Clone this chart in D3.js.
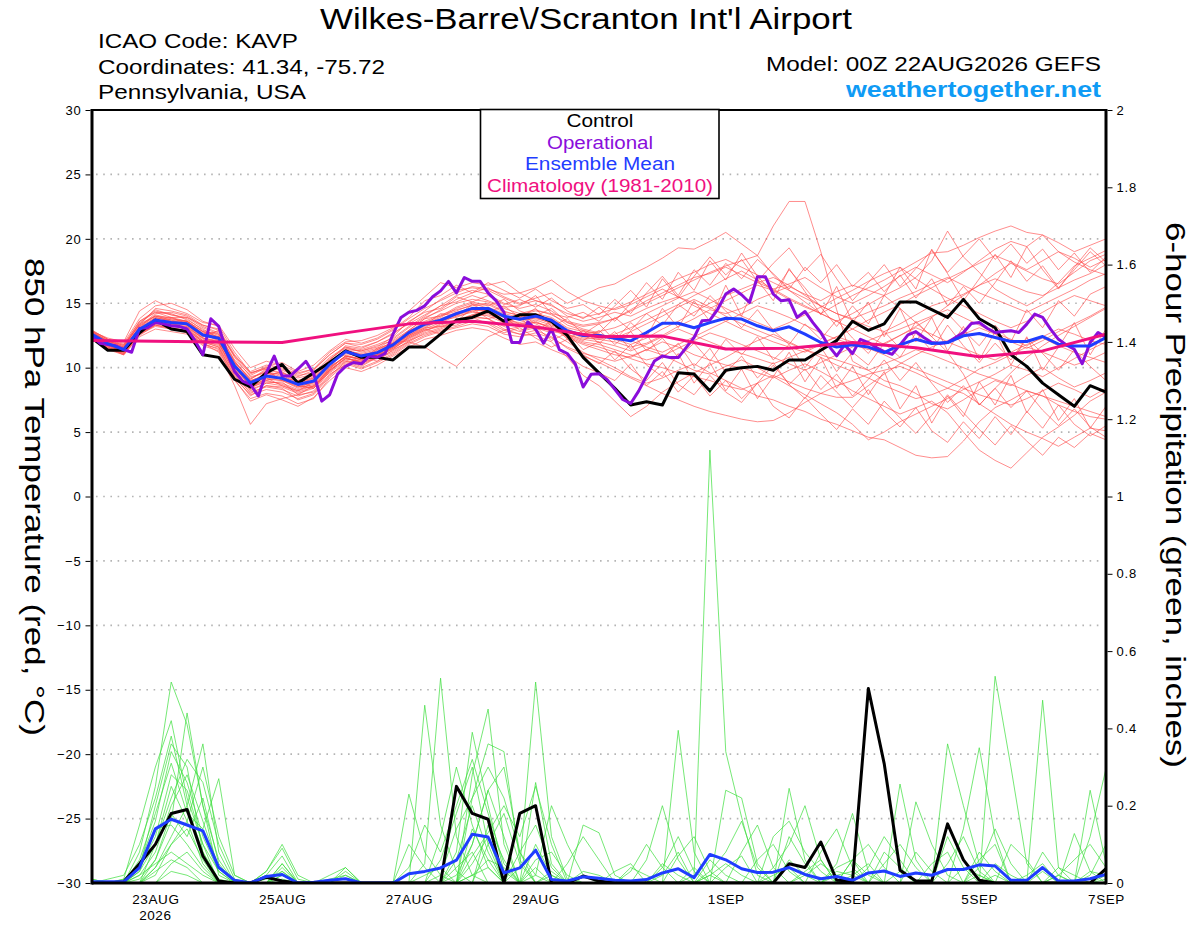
<!DOCTYPE html>
<html><head><meta charset="utf-8">
<script src="https://cdn.jsdelivr.net/npm/d3@7"></script>
<style>
body{margin:0;background:#fff}
svg{display:block}
text{font-family:"Liberation Sans",Arial,Helvetica,sans-serif}
</style>
</head><body>
<svg id="chart" width="1200" height="927"></svg>
<script>
// ---------------- DATA ----------------
const runStartUTC = Date.UTC(2026, 7, 22, 0);
const tempTicks = [30,25,20,15,10,5,0,-5,-10,-15,-20,-25,-30];
const precipTicks = [0,0.2,0.4,0.6,0.8,1,1.2,1.4,1.6,1.8,2];
const precipTickLabels = ["0","0.2","0.4","0.6","0.8","1","1.2","1.4","1.6","1.8","2"];
const dateTicks = ["2026-08-23","2026-08-25","2026-08-27","2026-08-29","2026-09-01","2026-09-03","2026-09-05","2026-09-07"];
const dateTickLabels = ["23AUG","25AUG","27AUG","29AUG","1SEP","3SEP","5SEP","7SEP"];
const yearLabel = "2026";
const legendLabels = ["Control","Operational","Ensemble Mean","Climatology (1981-2010)"];

// 6-hourly control temperature (°C)
const controlTemp = [12.3,11.35,11.35,12.7,13.7,13.0,12.8,11.0,10.8,
 9.1,8.5,9.6,10.25,8.8,9.6,10.4,11.3,
 10.8,10.8,10.6,11.6,11.6,12.6,13.7,13.9,
 14.4,13.6,14.1,14.1,13.6,12.5,10.8,9.6,
 8.4,7.1,7.35,7.1,9.6,9.5,8.2,9.8,
 10.0,10.1,9.8,10.6,10.6,11.35,12.1,13.6,
 12.9,13.4,15.1,15.1,14.5,13.9,15.3,13.8,
 13.1,11.0,10.1,8.8,7.9,7.0,8.6,8.1];

// 3-hourly operational temperature (°C)
const operationalTemp = [12.46,11.9,11.8,11.7,11.4,11.2,13.05,13.1,13.5,13.4,
 13.25,13.2,13.0,12.1,11.0,13.8,13.2,11.2,9.7,8.96,
 8.7,7.8,9.6,10.9,9.35,9.35,9.9,10.5,9.5,7.4,
 7.9,9.5,10.1,10.4,10.3,10.9,10.8,11.1,12.6,13.9,
 14.3,14.45,14.8,15.5,15.96,16.7,15.8,17.0,16.7,16.7,
 15.8,15.2,14.3,11.95,11.95,13.55,13.0,11.9,13.0,11.4,
 11.1,10.3,8.5,9.48,9.53,9.09,8.31,7.53,7.22,8.18,
 9.35,10.52,10.91,10.78,10.78,11.56,12.34,13.64,13.69,14.55,
 15.71,16.1,15.66,15.06,17.06,17.06,15.71,15.19,15.27,13.9,
 14.36,13.5,12.73,11.69,10.91,11.77,11.09,12.2,11.95,11.56,
 11.25,11.04,11.77,12.55,12.8,12.34,11.95,11.87,11.95,12.34,
 12.73,13.43,13.5,13.06,12.73,12.8,12.86,12.73,13.38,14.16,
 13.9,12.99,12.2,11.77,11.43,10.31,11.95,12.73,12.34];

// 6-hourly ensemble mean temperature (°C)
const meanTemp = [12.6,11.87,11.4,12.98,13.7,13.5,13.4,12.54,12.28,
 10.13,8.83,9.35,9.17,8.7,8.96,10.26,11.25,
 10.9,11.17,11.77,12.72,13.37,13.68,14.2,14.6,
 14.6,14.0,13.76,14.0,13.68,12.85,12.5,12.5,
 12.29,12.08,12.73,13.45,13.45,13.1,13.5,13.84,
 13.77,13.25,12.86,13.17,12.6,11.95,11.6,11.77,
 11.6,11.17,11.77,12.2,11.87,11.95,12.47,12.65,
 12.34,12.03,12.03,12.42,11.82,11.69,11.69,12.34];

// daily climatology (°C)
const climTemp = [12.1,12.05,12.0,11.95,12.7,13.4,13.6,13.15,12.4,12.45,11.45,11.5,11.95,11.55,10.85,11.3,12.6];

// ensemble members, 6-hourly temperature (°C)
const memberTemp = [
 [12.8,12.1,11.6,13.4,14.5,14.1,13.9,13.1,12.6, 10.5,9.1,9.9,9.6,9.0,9.4,10.6,11.6, 11.2,11.5,12.2,13.1,13.9,14.4,15.0,15.3, 15.1,14.6,14.2,14.5,14.1,13.5,13.2,13.4, 13.8,14.4,15.0,15.6,16.2,16.8,17.4,17.9, 18.3,18.7,21.0,22.9,22.9,19.0,14.5,10.5, 9.8,9.0,8.6,8.0,7.2,6.8,7.5,8.3, 9.0,8.6,9.4,10.0,9.2,8.5,9.0,9.6],
 [12.4,11.7,11.2,12.8,13.6,13.8,13.6,12.8,12.2, 9.8,8.4,9.0,8.7,8.2,8.6,9.9,10.9, 10.6,11.0,11.7,12.9,13.8,14.5,15.3,15.8, 16.2,15.5,15.0,15.4,15.8,15.0,15.6,16.2, 16.5,17.2,17.8,18.5,19.3,19.2,19.8,20.5, 19.6,18.7,17.2,16.0,15.1,14.2,13.6,13.0, 12.4,11.8,12.5,13.2,13.9,14.8,15.6,16.4, 17.3,18.1,17.5,16.9,16.5,17.4,18.3,18.8],
 [12.2,11.5,11.0,12.5,13.3,13.1,12.9,12.0,11.6, 9.4,8.1,8.5,8.3,7.8,8.2,9.7,10.6, 10.2,10.8,11.3,12.1,12.6,13.0,13.5,13.9, 13.8,13.2,12.8,13.1,12.7,12.0,11.2,10.6, 10.0,9.3,8.8,9.2,9.8,10.3,9.6,9.0, 8.4,7.8,7.5,7.0,6.6,6.0,5.6,5.1, 4.6,4.4,3.8,3.2,3.0,3.1,4.3,5.8, 6.9,7.5,8.2,7.8,7.1,6.6,6.2,6.0],
 [12.6,12.0,11.8,13.3,14.0,13.7,13.3,12.4,12.9, 10.8,9.3,9.6,9.1,8.6,8.4,9.8,10.7, 10.5,11.1,11.6,12.4,13.1,13.2,13.6,14.0, 14.1,13.7,13.5,13.9,13.4,12.8,12.4,12.2, 12.0,11.6,11.9,12.5,13.2,13.8,14.5,14.2, 14.6,15.3,15.8,16.3,15.7,15.2,15.9,16.4, 16.0,15.6,16.2,17.0,18.3,20.6,18.6,17.4, 16.1,15.4,14.8,15.5,16.6,17.9,18.5,19.1],
 [12.9,12.2,11.9,13.8,14.8,15.0,14.5,13.6,13.2, 11.2,9.6,10.0,9.8,9.3,9.8,11.0,11.9, 11.6,12.0,12.6,13.5,14.4,15.3,16.0,16.2, 16.0,15.4,14.9,15.2,14.9,14.0,13.6,13.9, 14.3,14.0,14.6,15.1,15.5,15.0,14.6,15.2, 15.8,16.4,16.0,15.3,14.7,14.2,14.9,15.6, 16.2,16.8,17.5,18.2,18.9,19.0,19.5,20.1, 20.6,21.0,20.5,20.3,19.0,18.2,17.6,17.2],
 [12.3,11.6,11.1,12.7,13.4,13.2,13.2,12.2,11.9, 9.5,8.0,8.6,8.5,8.0,8.4,9.7,10.8, 10.4,10.7,11.2,12.0,12.7,13.1,13.6,14.1, 14.3,13.6,13.4,13.5,13.1,12.3,11.8,11.4, 11.0,10.8,11.4,12.0,11.6,11.0,10.6,10.2, 10.0,9.6,9.2,9.8,10.3,9.7,9.0,8.2, 7.6,7.0,6.4,6.9,7.4,6.5,5.0,3.6, 2.8,2.2,3.4,4.6,5.4,6.3,7.4,8.1],
 [12.5,11.8,11.3,13.1,13.9,13.6,13.5,12.7,12.4, 10.2,8.9,9.5,9.6,9.2,9.5,10.5,11.3, 11.1,11.4,12.0,12.8,13.6,14.1,14.5,14.8, 14.9,14.3,14.1,14.4,14.2,13.3,12.9,12.6, 12.2,11.8,12.3,13.0,13.6,14.3,15.0,15.6, 16.1,16.6,17.0,16.4,15.6,14.8,14.2,13.7, 13.2,12.8,13.4,14.1,14.8,15.2,15.7,16.4, 16.9,16.4,15.9,15.6,16.2,16.8,17.3,18.0],
 [12.4,11.6,11.0,12.6,13.2,13.0,12.8,11.8,11.5, 9.2,7.9,8.3,8.1,7.6,8.0,9.4,10.4, 10.0,10.5,11.1,11.9,12.5,12.9,13.2,13.6, 13.5,12.9,12.6,12.9,12.4,11.5,10.9,10.4, 9.8,9.2,8.6,8.0,7.5,7.0,6.6,6.3, 6.0,5.8,5.9,6.5,7.3,8.0,8.6,9.0, 9.5,9.8,10.1,9.6,9.0,8.4,9.1,9.9, 10.4,11.0,11.6,11.2,10.7,10.2,10.6,11.2],
 [12.7,11.9,11.4,12.9,13.5,13.3,13.0,12.1,11.7, 9.6,8.3,8.8,8.6,8.1,8.5,9.9,10.9, 10.6,11.0,11.5,12.3,12.9,13.3,13.7,14.0, 13.8,13.0,12.6,12.5,12.0,10.8,9.4,8.6, 7.4,6.2,7.0,8.1,8.9,9.6,10.2,10.8, 11.5,12.1,12.6,12.0,11.4,10.8,10.2,9.7, 9.2,8.6,8.1,7.6,7.9,8.4,8.0,7.2, 6.4,5.6,5.0,4.5,3.9,4.6,5.3,5.1],
 [12.6,11.9,11.5,13.2,14.2,14.3,14.0,13.2,12.7, 10.6,9.4,10.0,9.9,9.4,9.6,10.8,11.6, 11.4,11.8,12.3,13.2,14.0,14.8,15.6,16.0, 15.7,15.0,14.6,14.9,14.4,13.6,13.3,13.5, 13.8,14.5,15.2,15.8,16.4,17.0,17.3,17.8, 17.2,16.6,16.1,16.5,17.0,16.2,15.5,15.0, 15.6,16.3,17.1,17.8,17.2,16.6,17.4,18.3, 19.2,19.8,19.4,20.3,19.7,19.0,19.5,20.0],
 [12.2,11.4,11.0,12.4,13.0,12.8,12.6,11.9,11.4, 9.0,7.6,8.0,7.8,7.2,7.6,9.2,10.3, 9.9,10.4,11.0,11.8,12.4,12.8,13.1,13.4, 13.2,12.6,12.4,12.7,12.3,11.6,11.1,10.8, 10.5,10.9,11.4,11.0,10.4,9.8,9.5,10.1, 10.6,10.0,9.3,8.6,7.9,7.2,6.5,5.6, 4.4,5.0,5.8,6.4,7.0,7.6,8.3,8.9, 9.5,10.2,9.8,9.3,10.0,10.7,11.4,12.0],
 [12.5,11.7,11.3,12.9,13.8,13.9,13.9,13.3,13.0, 11.0,9.6,9.9,9.5,8.9,9.2,10.4,11.3, 11.0,11.2,11.9,12.6,13.4,13.9,14.6,15.0, 14.6,14.0,13.7,13.8,13.5,12.9,12.6,12.8, 13.1,13.6,14.2,14.8,15.4,15.9,15.3,14.6, 14.0,13.5,13.0,13.5,14.1,14.7,15.4,16.0, 16.7,17.3,17.8,16.9,16.1,15.4,14.8,14.2, 13.6,13.1,13.6,14.3,15.0,15.6,15.2,14.8],
 [12.9,12.2,11.8,13.6,14.4,14.1,13.8,12.9,12.5, 10.3,9.0,9.4,9.1,8.5,8.8,10.0,10.9, 10.7,11.0,11.4,12.0,11.6,10.8,10.1,11.3, 12.4,12.9,13.2,13.6,13.0,12.5,12.0,11.8, 11.4,11.0,10.6,10.9,11.5,12.1,12.7,12.3, 11.8,11.3,10.8,10.3,9.8,10.4,11.0,11.6, 12.1,12.6,13.0,13.5,14.0,14.5,13.9,13.3, 12.7,12.2,11.7,12.4,13.0,12.6,12.1,11.8],
 [12.8,12.3,12.0,14.4,15.2,14.6,14.2,13.5,13.3, 11.5,10.0,10.5,10.2,9.6,9.9,11.0,11.9, 11.8,12.2,12.9,13.8,14.6,15.2,15.8,16.3, 16.1,15.7,15.8,16.2,16.8,15.9,15.2,14.8, 14.5,14.9,15.5,16.1,15.5,14.8,14.2,13.6, 13.0,12.5,12.0,11.6,11.2,11.8,12.4,13.0, 13.7,14.3,14.9,15.6,16.2,16.9,17.5,18.1, 18.7,18.2,17.6,18.3,19.0,18.5,17.8,18.4],
 [12.3,11.5,11.1,12.6,13.3,13.0,12.8,11.9,11.2, 8.6,5.6,7.2,7.6,7.9,8.6,9.6,10.5, 10.3,10.9,11.6,12.5,13.3,13.6,14.1,14.5, 14.4,13.9,13.4,13.7,13.3,12.6,12.2,12.0, 11.7,11.3,11.8,12.4,13.0,12.5,12.0,11.5, 11.1,10.7,10.3,10.8,11.3,11.9,12.4,12.0, 11.5,11.0,10.4,9.9,9.4,8.9,8.4,7.9, 7.5,7.1,7.6,8.2,8.8,8.3,7.7,8.4],
 [12.6,11.8,11.4,13.0,13.7,13.4,13.2,12.3,12.0, 9.9,8.6,9.1,9.0,8.5,8.9,10.2,11.1, 10.8,11.2,11.8,12.6,13.4,13.8,14.3,14.6, 14.7,14.2,13.9,14.1,13.8,13.0,12.5,12.3, 12.6,13.1,13.7,14.3,14.9,15.6,16.2,16.9, 17.5,16.8,16.1,15.4,14.8,14.2,13.6,14.2, 14.9,15.6,14.6,13.5,12.4,11.2,9.5,7.1, 8.4,9.6,10.8,11.7,12.5,13.2,13.9,14.6],
 [12.4,11.7,11.2,12.8,13.5,13.3,13.1,12.3,12.1, 10.0,8.7,9.2,9.0,8.4,8.7,10.0,10.9, 10.7,11.1,11.7,12.5,13.2,13.6,14.1,14.4, 14.5,13.9,13.7,13.9,13.6,12.8,12.3,12.2, 12.5,12.1,11.6,11.2,11.8,12.4,13.0,13.6, 14.2,14.8,14.4,13.9,13.3,12.7,12.2,11.8, 11.4,11.9,12.5,13.1,12.6,12.0,11.5,11.0, 10.6,11.2,11.8,12.3,11.7,11.2,10.8,10.4],
 [12.7,12.1,11.7,13.6,14.3,13.9,13.6,12.6,12.8, 10.9,9.7,10.2,10.0,9.5,9.9,11.2,12.0, 12.1,12.5,13.1,14.4,15.5,16.6,16.2,16.6, 16.4,16.7,15.8,15.2,14.8,14.2,13.9,14.2, 14.6,15.1,15.7,16.3,16.9,17.4,18.0,18.4, 17.8,17.2,16.6,16.0,15.4,14.8,14.2,13.8, 14.3,14.8,15.4,15.9,16.5,17.0,16.4,15.8, 15.3,14.8,14.3,14.9,15.5,16.1,16.8,17.3],
 [12.5,11.8,11.3,12.9,13.6,13.4,13.3,12.5,12.2, 10.1,8.5,8.9,8.8,8.3,8.6,9.8,10.7, 10.5,10.9,11.6,12.3,13.0,13.5,14.0,14.3, 14.2,13.6,13.3,13.5,13.2,12.4,11.9,11.6, 11.2,10.7,10.3,10.0,9.6,9.3,9.0,8.6, 8.3,8.8,9.4,8.9,8.4,8.0,7.7,7.7, 8.6,9.5,10.3,11.0,11.6,12.1,12.6,13.1, 12.6,12.0,11.5,12.1,12.8,13.4,14.0,14.7],
 [12.8,12.0,11.5,13.2,14.0,13.7,13.6,12.8,12.4, 10.4,9.2,9.7,9.4,8.8,9.1,10.4,11.4, 11.0,11.3,11.9,12.7,13.5,14.0,14.4,14.9, 15.0,14.4,14.0,14.2,13.9,13.1,12.8,12.6, 12.3,12.8,13.4,14.0,14.7,15.3,14.7,14.0, 13.4,12.9,12.4,11.9,11.4,11.0,10.6,10.2, 9.8,10.3,10.8,11.4,11.0,10.5,10.0,9.5, 9.1,8.7,8.2,7.8,7.4,7.0,6.6,6.2],
 [12.6,11.9,11.5,13.1,14.1,13.8,13.6,12.6,12.1, 10.0,8.9,9.6,9.3,8.7,9.2,10.5,11.0, 10.6,11.5,11.9,12.9,13.3,14.2,14.0,14.9, 14.3,14.8,13.9,14.6,13.2,13.8,12.6,13.4, 12.1,13.5,12.4,14.6,13.1,15.2,13.6,16.4, 14.0,16.8,15.2,17.7,15.9,14.1,16.3,13.5, 15.1,12.4,14.6,12.0,13.9,11.3,13.2,10.6, 12.8,10.2,12.4,9.8,11.6,13.5,11.0,13.0],
 [12.3,11.6,11.2,12.6,13.4,13.5,13.0,12.0,11.8, 9.9,8.2,8.8,8.9,7.9,8.1,9.5,10.2, 10.9,10.5,11.4,12.4,13.0,12.6,13.6,14.6, 13.8,14.1,12.9,13.2,12.1,12.7,11.4,12.0, 10.6,11.8,10.2,9.3,11.1,8.8,10.4,8.2, 9.9,7.6,9.3,11.2,8.9,10.8,8.4,10.1, 7.9,9.7,6.8,8.6,5.7,7.8,6.2,8.9, 7.1,9.4,6.5,8.3,5.9,7.6,5.3,7.0],
 [12.7,12.0,11.6,13.5,14.3,14.2,13.7,13.0,12.3, 10.3,8.7,9.3,9.7,8.9,8.5,10.0,11.4, 11.3,11.6,12.4,13.6,14.3,14.6,15.5,15.1, 15.6,14.9,15.3,14.7,15.4,14.4,13.8,14.7, 13.6,15.0,16.6,15.3,17.4,16.0,18.3,16.8, 18.9,17.1,15.8,17.6,16.2,14.7,13.2,14.8, 13.4,15.6,17.8,16.1,19.2,17.3,15.2,16.9, 18.8,17.0,19.4,17.6,16.1,17.8,19.3,18.2],
 [12.5,11.8,11.4,12.8,13.6,13.2,13.1,12.1,11.9, 9.7,8.4,9.2,8.6,8.2,8.9,10.1,10.8, 10.3,11.4,11.9,12.1,12.8,13.4,13.7,14.1, 14.5,13.4,13.9,12.8,13.6,12.2,12.9,11.9, 12.8,11.4,12.6,10.7,11.9,10.1,11.5,9.6, 10.9,9.2,10.4,8.7,7.6,9.4,8.1,6.9, 8.3,6.6,5.4,6.9,5.1,4.2,5.8,4.5, 6.2,4.8,6.6,5.3,7.1,5.6,4.7,5.5],
 [12.8,12.2,11.7,13.3,14.6,14.4,14.1,13.3,12.9, 10.9,9.5,10.1,10.4,9.7,10.2,11.3,12.2, 11.9,12.3,13.0,13.9,15.2,15.6,16.4,15.8, 16.6,16.0,15.4,16.1,15.2,14.6,14.9,14.1, 15.3,14.2,15.8,17.1,15.6,17.6,16.4,18.1, 16.9,18.4,17.3,16.1,17.8,16.6,18.0,16.3, 17.4,15.9,17.2,15.4,16.9,14.8,16.3,15.0, 16.6,18.3,16.7,17.9,16.2,17.6,19.0,17.9],
 [12.2,11.5,11.1,12.7,13.5,13.4,12.9,12.0,11.6, 9.3,7.8,8.6,8.4,7.5,7.9,9.3,10.5, 10.1,10.8,11.5,12.2,12.9,13.2,13.3,13.9, 13.4,12.7,13.1,12.3,11.6,12.2,11.0,10.3, 11.3,9.9,9.0,10.4,8.7,7.9,9.4,8.1, 7.3,8.8,7.0,6.1,7.7,6.4,5.2,6.8, 5.6,7.4,6.1,4.9,6.3,7.9,6.5,5.2, 4.0,5.5,4.3,3.2,4.6,3.8,4.9,4.4],
 [12.6,11.9,11.4,13.0,13.9,13.6,13.6,12.8,12.6, 10.5,9.0,9.4,9.2,9.0,9.4,10.7,11.5, 11.3,11.7,12.1,12.9,13.8,14.0,14.7,15.1, 14.8,15.3,14.4,14.0,14.6,13.5,13.0,12.7, 13.9,12.9,14.2,13.3,14.9,14.0,15.6,14.4, 13.1,14.5,12.9,11.8,13.4,12.2,13.7,12.3, 11.1,12.8,11.5,13.6,12.4,14.2,12.9,11.7, 13.3,12.0,14.5,13.1,15.2,14.0,15.7,16.3],
 [12.4,11.7,11.3,12.9,13.6,13.6,13.3,12.3,12.0, 10.0,8.6,9.0,9.3,8.6,8.4,9.8,10.7, 10.4,11.0,11.8,12.5,13.1,13.7,13.9,14.4, 14.0,13.5,14.2,13.4,12.8,12.6,12.1,12.9, 11.8,12.8,11.3,12.3,10.8,11.9,10.5,12.2, 11.0,12.4,10.6,11.8,10.0,11.6,9.7,11.2, 10.2,11.9,10.8,12.7,11.3,13.3,11.7,10.4, 11.9,10.6,12.3,11.1,9.8,11.4,10.1,9.0],
 [12.7,12.1,11.6,13.4,14.0,13.9,13.4,12.5,12.4, 10.4,9.1,9.8,9.0,8.8,9.3,10.6,11.7, 11.5,12.0,12.7,13.4,14.1,14.8,15.1,15.6, 15.2,14.7,14.8,15.6,14.2,13.9,14.3,13.6, 14.8,16.0,14.7,16.9,15.4,17.1,18.6,17.2, 18.4,16.7,18.1,19.3,17.5,18.8,16.9,15.2, 16.6,18.0,16.3,17.7,19.1,17.4,18.7,20.0, 18.4,19.6,18.1,19.2,17.6,18.9,17.4,18.6],
 [12.5,11.8,11.2,12.7,13.3,13.1,12.7,11.7,11.3, 9.1,7.4,7.9,7.5,7.0,7.7,9.0,10.0, 9.7,10.2,10.9,11.6,12.2,12.5,12.9,13.1, 12.9,12.3,11.8,12.0,11.4,10.9,10.1,9.6, 9.0,10.3,8.6,9.7,8.1,9.4,7.8,9.0, 7.6,8.8,10.2,8.7,9.9,8.3,9.5,7.8, 9.1,10.6,9.0,10.4,8.8,7.3,8.6,7.1, 8.4,6.9,8.2,6.7,5.5,6.8,5.4,4.6]
];

// 6-hourly precipitation (inches)
const controlPrecip = [0,0,0.003,0.05,0.10,0.18,0.19,0.07,0.005,
 0,0,0.015,0.005,0,0,0,0,
 0,0,0,0,0,0,0.25,0.18,
 0.165,0,0.18,0.2,0,0,0.018,0.005,
 0,0,0,0,0,0,0,0,
 0,0,0,0.05,0.04,0.106,0.007,0.005,
 0.503,0.309,0.033,0.005,0.005,0.153,0.06,0.007,
 0,0,0,0,0,0,0,0.037];

const meanPrecip = [0.003,0.003,0.003,0.04,0.14,0.165,0.15,0.135,0.04,
 0.007,0,0.017,0.022,0,0.002,0.007,0.011,
 0,0,0,0.024,0.03,0.039,0.059,0.126,
 0.119,0.026,0.039,0.085,0.009,0.005,0.016,0.012,
 0.007,0.005,0.009,0.026,0.037,0.014,0.074,0.06,
 0.037,0.027,0.028,0.04,0.022,0.011,0.017,0.007,
 0.026,0.031,0.017,0.026,0.02,0.035,0.035,0.047,
 0.044,0.007,0.007,0.04,0.005,0.005,0.011,0.022];

const memberPrecip = [
 [0.01,0,0,0.08,0.25,0.52,0.41,0.2,0.02, 0,0,0.03,0.09,0.01,0,0,0, 0,0,0,0,0.05,0.53,0.12,0.02, 0,0,0,0.1,0.02,0,0,0, 0,0,0,0.04,0.12,0.03,0,0, 0,0,0,0.06,0.02,0,0,0, 0,0,0,0,0,0.36,0.2,0.05, 0,0,0,0,0,0,0.02,0.1],
 [0,0,0.01,0.15,0.3,0.42,0.22,0.1,0.03, 0,0,0,0.05,0,0,0,0.04, 0,0,0,0.23,0.08,0.02,0,0.28, 0.45,0.1,0,0,0,0,0,0, 0,0,0,0,0,0.02,1.12,0.34, 0.17,0.02,0,0,0,0,0,0, 0.04,0.12,0.06,0,0,0,0,0, 0.535,0.3,0.05,0,0,0,0,0],
 [0,0.01,0.02,0.1,0.22,0.38,0.2,0.36,0.08, 0,0,0.02,0.07,0,0,0,0, 0,0,0,0,0.46,0.15,0.03,0, 0,0,0.04,0.52,0.12,0.01,0,0, 0,0,0.06,0.2,0.06,0,0,0, 0,0,0,0,0,0,0.05,0.18, 0.03,0,0,0,0,0,0,0, 0,0,0,0.473,0.04,0,0,0],
 [0,0,0,0.06,0.18,0.31,0.18,0.14,0.27, 0.02,0,0,0.03,0,0,0,0, 0,0,0,0,0,0,0.08,0.39, 0.2,0.03,0,0,0,0,0.15,0.13, 0.02,0,0,0,0.395,0.08,0,0, 0,0,0,0.245,0.06,0,0,0, 0,0,0.256,0.06,0,0,0,0, 0,0,0,0,0,0,0.12,0.296],
 [0,0,0,0.04,0.12,0.28,0.24,0.1,0, 0,0,0.02,0,0,0,0,0.03, 0,0,0,0,0,0,0,0.22, 0.36,0.34,0.06,0,0,0,0,0, 0,0,0,0,0,0,0,0.24, 0.22,0.05,0,0,0,0,0,0, 0,0,0,0.21,0.1,0.02,0,0, 0,0,0,0,0,0.128,0.03,0],
 [0,0,0,0,0.1,0.25,0.16,0.05,0, 0,0,0,0.04,0,0,0,0, 0,0,0,0,0,0.06,0.18,0.3, 0.1,0,0,0.26,0.05,0,0,0, 0,0.03,0.1,0.04,0,0,0,0, 0,0,0.12,0.16,0.08,0.03,0,0, 0,0,0,0,0,0,0.14,0.35, 0.12,0,0,0,0,0,0.24,0.05],
 [0,0,0,0.02,0.08,0.2,0.28,0.16,0.04, 0,0,0,0,0,0,0.02,0.04, 0,0,0,0,0,0,0,0.1, 0.24,0.12,0,0,0,0.05,0.12,0.06, 0,0,0,0,0,0,0,0, 0.08,0.15,0.04,0,0,0,0,0, 0,0.08,0.04,0,0,0,0,0, 0,0.1,0.06,0,0,0,0,0],
 [0.01,0,0,0,0.06,0.18,0.12,0.22,0.05, 0,0,0.03,0.1,0.02,0,0,0, 0,0,0,0.1,0.04,0,0,0, 0.15,0.06,0,0,0,0,0,0, 0,0,0,0,0.07,0.12,0.03,0, 0,0,0,0,0,0.08,0.14,0.04, 0,0,0,0,0,0.12,0.04,0, 0,0,0,0,0.04,0.02,0,0],
 [0,0,0,0.03,0.14,0.15,0.1,0.04,0, 0,0,0,0,0,0,0,0, 0,0,0,0,0,0.12,0.3,0.15, 0.04,0,0.08,0.15,0.04,0,0,0, 0,0,0,0,0,0,0.06,0.02, 0,0,0,0,0,0,0.04,0.06, 0,0,0,0.08,0.03,0,0,0.06, 0.1,0,0,0,0,0,0,0],
 [0,0,0,0,0.04,0.12,0.2,0.08,0, 0,0,0,0.02,0,0,0,0.02, 0,0,0,0,0,0,0.06,0.2, 0.08,0,0,0,0.03,0,0,0, 0,0,0,0.02,0.08,0,0,0, 0,0,0,0.12,0.05,0,0,0, 0,0.05,0.1,0.04,0,0,0,0, 0,0,0,0.08,0.02,0,0,0],
 [0,0,0,0,0.02,0.1,0.14,0.06,0, 0,0,0,0,0,0,0,0, 0,0,0,0,0,0,0,0.14, 0.06,0,0,0.06,0.08,0.02,0,0, 0.03,0.05,0,0,0,0,0,0, 0,0.06,0.1,0.03,0,0,0,0, 0,0,0,0,0.05,0.08,0,0, 0,0,0,0,0,0,0,0.04],
 [0,0,0,0.02,0.05,0.08,0.05,0.02,0, 0,0,0,0.05,0,0,0,0, 0,0,0,0,0.02,0.04,0,0, 0.1,0.18,0.05,0,0,0,0,0, 0,0,0,0.05,0.02,0,0,0.04, 0.07,0,0,0,0,0,0,0.06, 0.02,0,0,0,0,0,0,0, 0.05,0.02,0,0,0,0,0,0],
 [0,0,0,0,0,0.05,0.08,0.03,0, 0,0,0,0,0,0,0,0, 0,0,0,0,0,0,0,0.05, 0.12,0,0,0,0,0,0.03,0.02, 0,0,0,0,0,0.04,0,0, 0,0,0,0,0.03,0.06,0,0, 0,0,0,0,0,0,0.04,0.02, 0,0,0,0.03,0,0,0,0],
 [0,0,0,0,0.03,0.06,0.04,0,0, 0,0,0.01,0.03,0,0,0,0, 0,0,0,0,0,0,0.04,0.08, 0,0,0,0.04,0,0,0,0, 0,0,0,0,0,0,0,0, 0,0,0.02,0.04,0,0,0,0, 0,0,0.03,0,0,0,0,0, 0,0,0.02,0.05,0,0,0,0],
 [0,0,0,0,0,0.03,0.02,0,0, 0,0,0,0,0,0,0,0, 0,0,0,0,0,0,0,0.02, 0.04,0,0,0,0.02,0,0,0, 0,0,0,0,0,0,0.02,0, 0,0,0,0,0,0,0.02,0.03, 0,0,0,0,0,0,0,0.02, 0,0,0,0,0,0,0.03,0.02],
 [0,0,0.01,0.05,0.16,0.34,0.26,0.12,0.03, 0,0,0,0.02,0,0,0.01,0.02, 0,0,0,0.04,0.15,0.08,0.2,0.32, 0.18,0.05,0,0,0,0,0,0, 0,0,0,0,0,0,0.03,0.08, 0.16,0.04,0,0,0,0,0,0.02, 0.05,0,0,0,0,0,0,0, 0,0,0,0,0.02,0.06,0.1,0.04],
 [0,0,0,0.03,0.1,0.22,0.32,0.26,0.1, 0.01,0,0,0,0,0,0,0, 0,0,0,0,0,0.02,0.14,0.22, 0.3,0.22,0.08,0,0,0,0,0, 0,0.04,0.02,0,0,0,0,0, 0,0,0.04,0.1,0.2,0.06,0,0, 0,0,0,0,0,0.05,0.12,0.03, 0,0,0,0,0.02,0,0,0.01],
 [0,0,0,0.04,0.2,0.36,0.3,0.08,0.01, 0,0,0,0,0,0,0,0, 0,0,0,0,0,0,0,0.07, 0.13,0.2,0.12,0.25,0.1,0,0,0, 0,0,0,0,0,0,0.02,0.05, 0.02,0,0,0,0,0,0,0.06, 0.1,0.04,0,0,0,0,0,0.08, 0.03,0,0,0,0,0,0,0],
 [0,0,0,0.01,0.06,0.16,0.44,0.2,0.06, 0,0,0,0.01,0,0,0,0, 0,0,0,0,0,0,0.02,0.1, 0.24,0.3,0.08,0.02,0,0,0,0, 0,0,0,0,0,0,0,0, 0,0,0,0,0,0,0.03,0.02, 0,0,0,0,0,0,0,0.04, 0.14,0.05,0,0,0,0,0,0],
 [0,0,0,0,0.04,0.1,0.16,0.3,0.12, 0.02,0,0,0,0,0,0,0, 0,0,0,0,0,0,0,0.02, 0.06,0.04,0,0.02,0.2,0.1,0.02,0, 0,0,0,0,0,0,0,0, 0,0,0,0,0.02,0.05,0.02,0, 0,0,0,0,0,0,0,0, 0.02,0,0,0,0,0,0,0.02]
];

// ---------------- DRAW ----------------
const svg = d3.select("#chart");
const W = 1200, H = 927;
const plot = {left: 92, right: 1106, top: 110, bottom: 883};
const HOUR = 3600e3;

const x = d3.scaleUtc()
  .domain([new Date(runStartUTC), new Date(runStartUTC + 16*24*HOUR)])
  .range([plot.left, plot.right]);
const yT = d3.scaleLinear().domain([-30, 30]).range([plot.bottom, plot.top]);
const yP = d3.scaleLinear().domain([0, 2]).range([plot.bottom, plot.top]);

const tAt = (step, hours) => new Date(runStartUTC + step*hours*HOUR);

svg.append("rect").attr("width", W).attr("height", H).attr("fill", "#fff");

// grid lines (dotted)
svg.append("g").selectAll("line")
  .data(tempTicks.filter(t => t > -30 && t < 30))
  .join("line")
  .attr("x1", plot.left + 4).attr("x2", plot.right - 2)
  .attr("y1", d => yT(d)).attr("y2", d => yT(d))
  .attr("stroke", "#b4b4b4").attr("stroke-width", 1.6)
  .attr("stroke-dasharray", "1.6,5.6");

svg.append("clipPath").attr("id", "pclip").append("rect")
  .attr("x", plot.left).attr("y", plot.top).attr("width", plot.right - plot.left).attr("height", plot.bottom - plot.top);

const gData = svg.append("g").attr("clip-path", "url(#pclip)");

const line6T = d3.line().x((d, i) => x(tAt(i, 6))).y(d => yT(d));
const line3T = d3.line().x((d, i) => x(tAt(i, 3))).y(d => yT(d));
const line24T = d3.line().x((d, i) => x(tAt(i, 24))).y(d => yT(d));
const line6P = d3.line().x((d, i) => x(tAt(i, 6))).y(d => yP(d));

// members
gData.append("g").selectAll("path").data(memberTemp).join("path")
  .attr("d", line6T).attr("fill", "none")
  .attr("stroke", "#ff4a4a").attr("stroke-width", 0.7).attr("stroke-opacity", 0.9);
gData.append("g").selectAll("path").data(memberPrecip).join("path")
  .attr("d", line6P).attr("fill", "none")
  .attr("stroke", "#3ede3e").attr("stroke-width", 0.75).attr("stroke-opacity", 0.95);

// precip control and mean
gData.append("path").datum(controlPrecip).attr("d", line6P).attr("fill", "none")
  .attr("stroke", "#000").attr("stroke-width", 3).attr("stroke-linejoin", "round");
gData.append("path").datum(meanPrecip).attr("d", line6P).attr("fill", "none")
  .attr("stroke", "#1f3dff").attr("stroke-width", 3).attr("stroke-linejoin", "round");

// temperature lines
gData.append("path").datum(controlTemp).attr("d", line6T).attr("fill", "none")
  .attr("stroke", "#000").attr("stroke-width", 3).attr("stroke-linejoin", "round");
gData.append("path").datum(operationalTemp).attr("d", line3T).attr("fill", "none")
  .attr("stroke", "#8a0ddb").attr("stroke-width", 3).attr("stroke-linejoin", "round");
gData.append("path").datum(meanTemp).attr("d", line6T).attr("fill", "none")
  .attr("stroke", "#1f3dff").attr("stroke-width", 3).attr("stroke-linejoin", "round");
gData.append("path").datum(climTemp).attr("d", line24T).attr("fill", "none")
  .attr("stroke", "#f0107f").attr("stroke-width", 3).attr("stroke-linejoin", "round");

// frame
const frame = svg.append("g").attr("stroke", "#000").attr("fill", "none");
frame.append("line").attr("x1", plot.left).attr("x2", plot.left).attr("y1", plot.top - 1).attr("y2", plot.bottom + 1.5).attr("stroke-width", 3);
frame.append("line").attr("x1", plot.right).attr("x2", plot.right).attr("y1", plot.top - 1).attr("y2", plot.bottom + 1.5).attr("stroke-width", 3);
frame.append("line").attr("x1", plot.left).attr("x2", plot.right).attr("y1", plot.top).attr("y2", plot.top).attr("stroke-width", 2);
frame.append("line").attr("x1", plot.left).attr("x2", plot.right).attr("y1", plot.bottom).attr("y2", plot.bottom).attr("stroke-width", 3);

// axes
const axL = svg.append("g").attr("transform", `translate(${plot.left - 1.5},0)`)
  .call(d3.axisLeft(yT).tickValues(tempTicks).tickSize(5).tickPadding(4).tickFormat(d3.format("d")));
const axR = svg.append("g").attr("transform", `translate(${plot.right + 1.5},0)`)
  .call(d3.axisRight(yP).tickValues(precipTicks).tickSize(5).tickPadding(4)
    .tickFormat((d, i) => precipTickLabels[i]));
[axL, axR].forEach(a => {
  a.select(".domain").remove();
  a.selectAll("text").attr("font-size", 13).attr("fill", "#000")
    .attr("font-family", '"Liberation Sans",Arial,sans-serif').attr("letter-spacing", "0.8px");
  a.selectAll("line").attr("stroke", "#000");
});

const axB = svg.append("g").attr("transform", `translate(0,${plot.bottom})`)
  .call(d3.axisBottom(x).tickValues(dateTicks.map(s => new Date(s + "T00:00:00Z")))
    .tickSize(0).tickPadding(10).tickFormat((d, i) => dateTickLabels[i]));
axB.select(".domain").remove();
axB.selectAll("text").attr("font-size", 13.5).attr("fill", "#000").attr("letter-spacing", "0.6px")
  .attr("font-family", '"Liberation Sans",Arial,sans-serif').attr("dy", "0.78em");
svg.append("text").attr("x", x(new Date(dateTicks[0] + "T00:00:00Z"))).attr("y", 920)
  .attr("text-anchor", "middle").attr("font-size", 13.5).attr("letter-spacing", "0.6px").text(yearLabel);

// titles
svg.append("text").attr("x", 320).attr("y", 29).attr("font-size", 30)
  .attr("textLength", 532).attr("lengthAdjust", "spacingAndGlyphs")
  .text("Wilkes-Barre\\/Scranton Int'l Airport");
const info = ["ICAO Code: KAVP", "Coordinates: 41.34, -75.72", "Pennsylvania, USA"];
const infoW = [200, 287, 208];
info.forEach((t, i) => {
  svg.append("text").attr("x", 98).attr("y", 48 + i * 25.7).attr("font-size", 21)
    .attr("textLength", infoW[i]).attr("lengthAdjust", "spacingAndGlyphs").text(t);
});
svg.append("text").attr("x", 766).attr("y", 71).attr("font-size", 21)
  .attr("textLength", 335).attr("lengthAdjust", "spacingAndGlyphs")
  .text("Model: 00Z 22AUG2026 GEFS");
svg.append("text").attr("x", 846).attr("y", 97).attr("font-size", 22).attr("font-weight", "bold")
  .attr("fill", "#0f9bf5").attr("textLength", 255).attr("lengthAdjust", "spacingAndGlyphs")
  .text("weathertogether.net");

// axis titles
svg.append("text").attr("transform", "translate(25,497) rotate(90)")
  .attr("text-anchor", "middle").attr("font-size", 28)
  .attr("textLength", 478).attr("lengthAdjust", "spacingAndGlyphs")
  .text("850 hPa Temperature (red, °C)");
svg.append("text").attr("transform", "translate(1166,495) rotate(90)")
  .attr("text-anchor", "middle").attr("font-size", 28)
  .attr("textLength", 546).attr("lengthAdjust", "spacingAndGlyphs")
  .text("6-hour Precipitation (green, inches)");

// legend
const leg = svg.append("g");
leg.append("rect").attr("x", 480.5).attr("y", 109.5).attr("width", 238.5).attr("height", 89)
  .attr("fill", "#fff").attr("stroke", "#000").attr("stroke-width", 1.6);
const legColors = ["#000000", "#8a0ddb", "#1f3dff", "#f0107f"];
const legWidths = [67, 106, 150, 226];
legendLabels.forEach((t, i) => {
  leg.append("text").attr("x", 600 - legWidths[i] / 2).attr("y", 127 + i * 21.5)
    .attr("font-size", 17.5).attr("fill", legColors[i])
    .attr("textLength", legWidths[i]).attr("lengthAdjust", "spacingAndGlyphs").text(t);
});
</script>
</body></html>
